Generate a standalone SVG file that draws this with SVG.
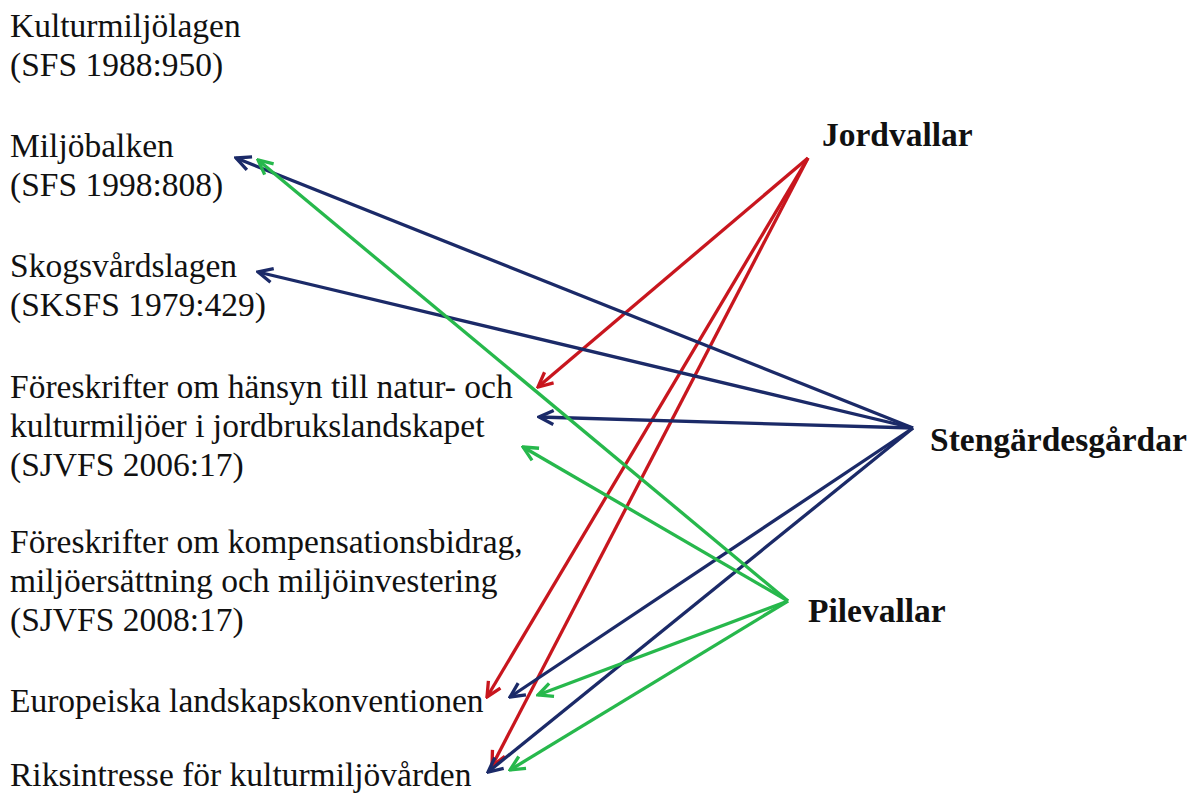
<svg xmlns="http://www.w3.org/2000/svg" width="1200" height="796" viewBox="0 0 1200 796">
<style>
text{font-family:"Liberation Serif","Times New Roman",serif;font-size:33.5px;fill:#111}
.b{font-weight:bold}
.r{stroke:#C8161E}
.n{stroke:#1B2A68}
.g{stroke:#27B84C}
#connectors line{stroke-width:3.3;fill:none}
</style>
<defs>
<marker id="mr" viewBox="0 0 18 18" markerWidth="18" markerHeight="18" refX="16" refY="9" orient="auto" markerUnits="userSpaceOnUse"><path d="M1.5,2 L16,9 L1.5,16" fill="none" stroke="#C8161E" stroke-width="3.3"/></marker>
<marker id="mn" viewBox="0 0 18 18" markerWidth="18" markerHeight="18" refX="16" refY="9" orient="auto" markerUnits="userSpaceOnUse"><path d="M1.5,2 L16,9 L1.5,16" fill="none" stroke="#1B2A68" stroke-width="3.3"/></marker>
<marker id="mg" viewBox="0 0 18 18" markerWidth="18" markerHeight="18" refX="16" refY="9" orient="auto" markerUnits="userSpaceOnUse"><path d="M1.5,2 L16,9 L1.5,16" fill="none" stroke="#27B84C" stroke-width="3.3"/></marker>
</defs>
<rect width="1200" height="796" fill="#fff"/>
<g id="kulturmiljolagen"><text x="10" y="37">Kulturmiljölagen</text><text x="10" y="76">(SFS 1988:950)</text></g>
<g id="miljobalken"><text x="10" y="157">Miljöbalken</text><text x="10" y="196">(SFS 1998:808)</text></g>
<g id="skogsvardslagen"><text x="10" y="277">Skogsvårdslagen</text><text x="10" y="316">(SKSFS 1979:429)</text></g>
<g id="sjvfs2006"><text x="10" y="398">Föreskrifter om hänsyn till natur- och</text><text x="10" y="437">kulturmiljöer i jordbrukslandskapet</text><text x="10" y="476">(SJVFS 2006:17)</text></g>
<g id="sjvfs2008"><text x="10" y="553">Föreskrifter om kompensationsbidrag,</text><text x="10" y="592">miljöersättning och miljöinvestering</text><text x="10" y="631">(SJVFS 2008:17)</text></g>
<g id="europeiska"><text x="10" y="712">Europeiska landskapskonventionen</text></g>
<g id="riksintresse"><text x="10" y="786">Riksintresse för kulturmiljövården</text></g>
<g id="jordvallar"><text class="b" x="822" y="146">Jordvallar</text></g>
<g id="stengardesgardar"><text class="b" x="930" y="451">Stengärdesgårdar</text></g>
<g id="pilevallar"><text class="b" x="808" y="622">Pilevallar</text></g>
<g id="connectors">
<line class="r" x1="808" y1="158" x2="538" y2="387" marker-end="url(#mr)"/>
<line class="r" x1="808" y1="158" x2="487" y2="697" marker-end="url(#mr)"/>
<line class="r" x1="808" y1="158" x2="492" y2="766" marker-end="url(#mr)"/>
<line class="n" x1="913" y1="428" x2="236" y2="158" marker-end="url(#mn)"/>
<line class="n" x1="913" y1="428" x2="258" y2="272" marker-end="url(#mn)"/>
<line class="n" x1="913" y1="428" x2="539" y2="417" marker-end="url(#mn)"/>
<line class="n" x1="913" y1="428" x2="510" y2="697" marker-end="url(#mn)"/>
<line class="n" x1="913" y1="428" x2="488" y2="772" marker-end="url(#mn)"/>
<line class="g" x1="788" y1="601" x2="258" y2="160" marker-end="url(#mg)"/>
<line class="g" x1="788" y1="601" x2="523" y2="447" marker-end="url(#mg)"/>
<line class="g" x1="788" y1="601" x2="538" y2="695" marker-end="url(#mg)"/>
<line class="g" x1="788" y1="601" x2="510" y2="770" marker-end="url(#mg)"/>
</g>
</svg>
